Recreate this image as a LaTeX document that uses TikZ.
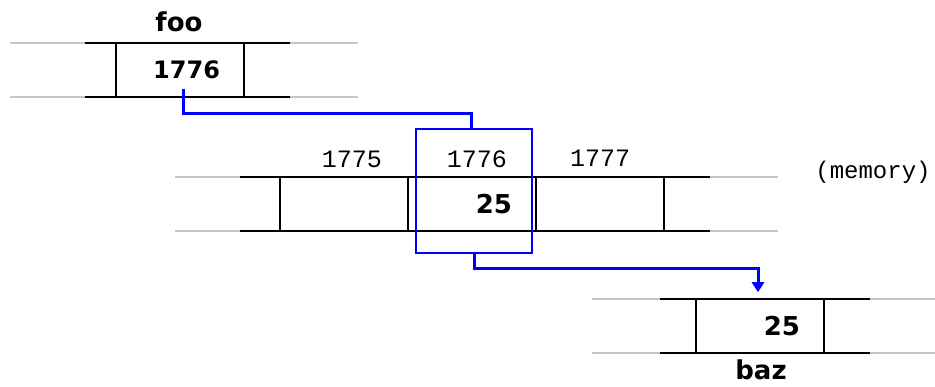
\documentclass[tikz,border=0pt]{standalone}
\usepackage{fontspec}
\setmainfont{DejaVu Sans}
\newfontfamily\addrfont{Liberation Mono}
\usetikzlibrary{arrows.meta}
\begin{document}
\begin{tikzpicture}[x=1pt,y=-1pt,
    cell/.style={draw,line width=1.5pt,minimum width=128pt,minimum height=54pt,
                 text width=80pt,align=right,inner xsep=24pt,inner ysep=0pt,
                 font=\bfseries\fontsize{24}{24}\selectfont},
    big/.style={font=\bfseries\fontsize{26}{26}\selectfont},
    rail/.style={line width=1.5pt},
    ptr/.style={blue,line width=3pt},
    addr/.style={font=\addrfont\fontsize{25}{25}\selectfont},
    lbl/.style={font=\bfseries\fontsize{26}{26}\selectfont,inner sep=1pt}]
    \useasboundingbox (0,0) rectangle (935,387);
    % rails
    \foreach \y in {43,97} {
      \draw [rail,gray!45] (10,\y) -- (358,\y);
      \draw [rail] (85,\y) -- (290,\y);}
    \foreach \y in {177,231} {
      \draw [rail,gray!45] (175,\y) -- (778,\y);
      \draw [rail] (240,\y) -- (710,\y);}
    \foreach \y in {299,353} {
      \draw [rail,gray!45] (592,\y) -- (935,\y);
      \draw [rail] (660,\y) -- (870,\y);}
    % cells
    \node [cell] (foo) at (180,70) {1776};
    \node [lbl] (foolbl) at (179,22) {foo};
    \node [cell] (mem1) at (344,204) {};
    \node [cell,big] (mem2) at (472,204) {25};
    \node [cell] (mem3) at (600,204) {};
    \node [addr] (a1775) at (352,159) {1775};
    \node [addr] (a1776) at (477,159) {1776};
    \node [addr] (a1777) at (600,158) {1777};
    \node [addr,font=\addrfont\fontsize{24}{24}\selectfont] (memlbl) at (873,172) {(memory)};
    \node [cell,big] (baz) at (760,326) {25};
    \node [lbl] (bazlbl) at (761,370) {baz};
    % pointer
    \node [draw=blue,line width=1.5pt,minimum width=116pt,minimum height=124pt] (sel) at (474,191) {};
    \coordinate (fooptr) at (183,89);
    \draw [ptr] (fooptr) -- ++(0,25) -| ([xshift=-3pt]sel.north);
    \draw [ptr,-{Triangle[length=10pt,width=12pt]}] (sel.south) -- ++(0,15) -| ([xshift=-2pt,yshift=6pt]baz.north);
\end{tikzpicture}
\end{document}
